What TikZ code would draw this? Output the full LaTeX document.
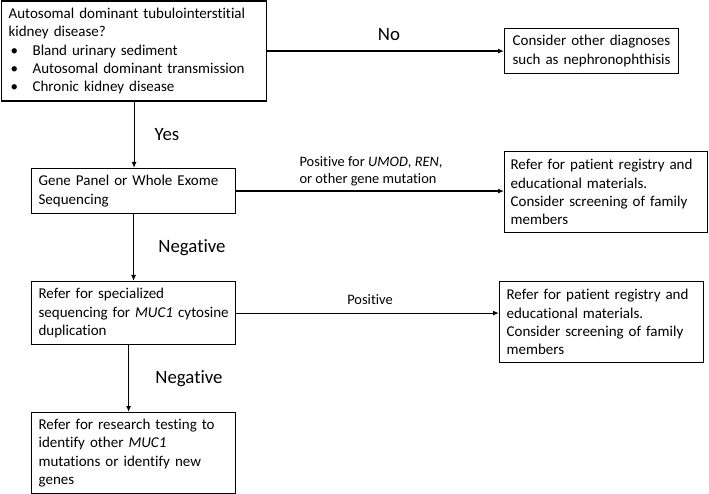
\documentclass[tikz,border=0pt]{standalone}
\usepackage{fontspec}
\setmainfont{Carlito}[Ligatures=NoCommon]
\usetikzlibrary{arrows.meta}
\hyphenpenalty=10000
\exhyphenpenalty=10000
\begin{document}
\begin{tikzpicture}[x=1pt,y=-1pt,
  box/.style={draw,line width=1.2pt,rectangle,anchor=north west,align=left,inner ysep=0pt,
    font=\fontsize{15}{18.2}\selectfont},
  arr/.style={line width=1.2pt,-{Latex[length=6pt,width=5pt]}},
  biglab/.style={font=\fontsize{18.8}{22}\selectfont},
  lab/.style={font=\fontsize{14.4}{17}\selectfont,align=left}]
\useasboundingbox (0,0) rectangle (709,494);
\node[box,inner xsep=7pt,text width=251pt,minimum height=100pt] (b1) at (1,0.5)
 {Autosomal dominant tubulointerstitial\\kidney disease?\\
  \makebox[24pt][l]{\hspace{2pt}\textbullet}Bland urinary sediment\\
  \makebox[24pt][l]{\hspace{2pt}\textbullet}Autosomal dominant transmission\\
  \makebox[24pt][l]{\hspace{2pt}\textbullet}Chronic kidney disease};
\node[box,inner xsep=8pt,text width=158pt,minimum height=45pt] (cons) at (504,28)
 {Consider other diagnoses\\such as nephronophthisis};
\node[box,inner xsep=7pt,text width=190pt,minimum height=45pt] (b2) at (31,168)
 {Gene Panel or Whole Exome\\Sequencing};
\node[box,inner xsep=6pt,text width=191pt,minimum height=81pt] (rm) at (504,151)
 {Refer for patient registry and\\educational materials.\\Consider screening of family\\members};
\node[box,inner xsep=7pt,text width=190pt,minimum height=63pt] (b3) at (31,281)
 {Refer for specialized\\\mbox{sequencing for \textit{MUC1} cytosine}\\duplication};
\node[box,inner xsep=7pt,text width=190pt,minimum height=81pt] (rl) at (499,281)
 {Refer for patient registry and\\educational materials.\\Consider screening of family\\members};
\node[box,inner xsep=7pt,text width=190pt,minimum height=81pt] (b4) at (31,412)
 {Refer for research testing to\\identify other \textit{MUC1}\\mutations or identify new\\genes};
\draw[arr] (b1.east) -- (b1.east -| cons.west);
\draw[arr] (b1.south) -- (b1.south |- b2.north);
\draw[arr] (b2.south) -- (b3.north);
\draw[arr] (b2.east) -- (b2.east -| rm.west);
\draw[arr] (b3.east) -- (b3.east -| rl.west);
\draw[arr] ([xshift=-5pt]b3.south) -- ([xshift=-5pt]b4.north);
\node[biglab] (lno) at (389,35) {No};
\node[biglab] (lyes) at (167,135) {Yes};
\node[biglab] (lneg1) at (192,248) {Negative};
\node[biglab] (lneg2) at (189,379) {Negative};
\node[lab,anchor=west] (lpos1) at (296,171) {Positive for \textit{UMOD}, \textit{REN},\\or other gene mutation};
\node[lab] (lpos2) at (370,300) {Positive};
\end{tikzpicture}
\end{document}
